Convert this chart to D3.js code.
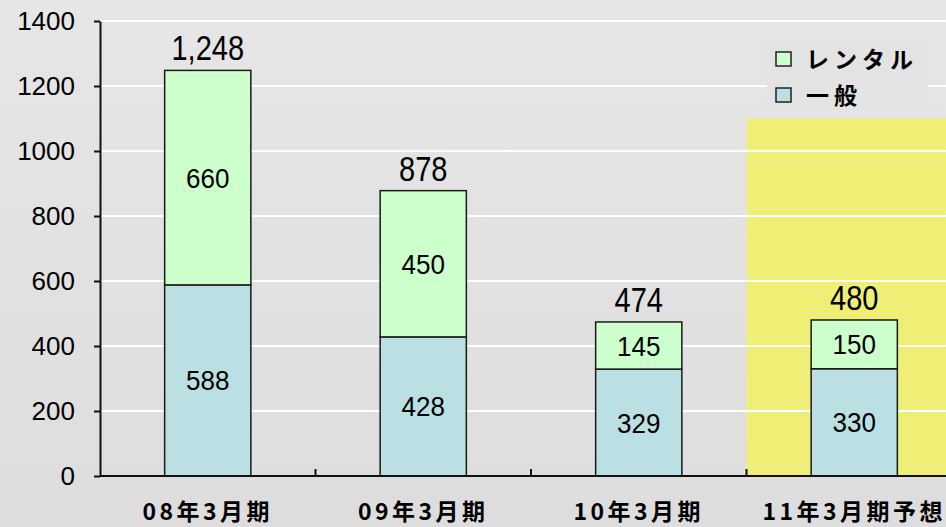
<!DOCTYPE html>
<html>
<head>
<meta charset="utf-8">
<script src="https://cdn.jsdelivr.net/npm/d3@7"></script>
<style>
  html, body { margin: 0; padding: 0; background: #e2e2e2; }
  svg { display: block; }
</style>
</head>
<body>
<svg id="chart" width="946" height="527"></svg>
<script>
// Fiscal periods and the two stacked series (units)
const categories = ["08年3月期", "09年3月期", "10年3月期", "11年3月期予想"];
const general = [588, 428, 329, 330];   // 一般
const rental  = [660, 450, 145, 150];   // レンタル
const totals  = [1248, 878, 474, 480];
const yTicks  = [0, 200, 400, 600, 800, 1000, 1200, 1400];
const forecastTop = 1100;               // height of the highlighted forecast panel
const seriesNames = ["レンタル", "一般"];

const colors = { rental: "#ccffcc", general: "#bae0e3" };
const numFont = "'Liberation Sans', Arial, sans-serif";
const jpFont = "'Noto Sans CJK JP', sans-serif";

const svg = d3.select("#chart");
const W = 946, H = 527;
const plotLeft = 100, plotBottom = 476, plotTop = 21;

// background with a faint vertical shade
const defs = svg.append("defs");
const bg = defs.append("linearGradient").attr("id", "bg").attr("x1", 0).attr("y1", 0).attr("x2", 0).attr("y2", 1);
bg.append("stop").attr("offset", "0%").attr("stop-color", "#e6e6e6");
bg.append("stop").attr("offset", "100%").attr("stop-color", "#dddddd");
svg.append("rect").attr("width", W).attr("height", H).attr("fill", "url(#bg)");

// fine yellow dotted mesh used for the forecast panel
const pat = defs.append("pattern").attr("id", "mesh").attr("patternUnits", "userSpaceOnUse")
  .attr("width", 4).attr("height", 4);
pat.append("rect").attr("width", 4).attr("height", 4).attr("fill", "#f4f43c");
[[1, 0], [0, 1], [2, 1], [1, 2], [3, 3], [3, 1]].forEach(([px, py]) =>
  pat.append("rect").attr("x", px).attr("y", py).attr("width", 1).attr("height", 1).attr("fill", "#e6e6d4"));

const x = d3.scaleBand().domain(categories).range([plotLeft, 962]).paddingInner(0.6).paddingOuter(0.3);
const y = d3.scaleLinear().domain([0, 1400]).range([plotBottom, plotTop]);

// forecast panel
const fStart = x(categories[3]) - x.step() * x.paddingInner() / 2;
svg.append("rect")
  .attr("x", fStart).attr("y", y(forecastTop))
  .attr("width", W - fStart).attr("height", y(0) - y(forecastTop))
  .attr("fill", "url(#mesh)");

// gridlines
svg.append("g").selectAll("line").data(yTicks.filter(d => d > 0)).join("line")
  .attr("x1", plotLeft).attr("x2", W)
  .attr("y1", d => y(d)).attr("y2", d => y(d))
  .attr("stroke", "#ffffff").attr("stroke-width", 2);

// stacked bars
const bars = svg.append("g");
categories.forEach((c, i) => {
  bars.append("rect")
    .attr("x", x(c)).attr("y", y(general[i]))
    .attr("width", x.bandwidth()).attr("height", y(0) - y(general[i]))
    .attr("fill", colors.general).attr("stroke", "#1a1a1a").attr("stroke-width", 1.5);
  bars.append("rect")
    .attr("x", x(c)).attr("y", y(general[i] + rental[i]))
    .attr("width", x.bandwidth()).attr("height", y(general[i]) - y(general[i] + rental[i]))
    .attr("fill", colors.rental).attr("stroke", "#1a1a1a").attr("stroke-width", 1.5);
});

// text helper: condensed numerals drawn with a horizontal squeeze
function numText(g, cx, cy, str, size, squeeze) {
  g.append("text")
    .attr("transform", `translate(${cx},${cy}) scale(${squeeze},1)`)
    .attr("font-size", size).text(str);
}

// segment values and totals
const labels = svg.append("g").attr("font-family", numFont).attr("fill", "#000").attr("text-anchor", "middle");
categories.forEach((c, i) => {
  const cx = x(c) + x.bandwidth() / 2;
  numText(labels, cx, y(general[i] / 2) + 10, general[i], 28, 0.93);
  numText(labels, cx, y(general[i] + rental[i] / 2) + 10, rental[i], 28, 0.93);
  numText(labels, cx, y(totals[i]) - 10, d3.format(",")(totals[i]), 35, 0.83);
});

// y axis
const yAxis = svg.append("g").attr("transform", `translate(${plotLeft},0)`)
  .call(d3.axisLeft(y).tickValues(yTicks).tickFormat(d3.format("d")).tickSize(6).tickPadding(19).tickSizeOuter(0));
yAxis.select(".domain").attr("stroke", "#111").attr("stroke-width", 2);
yAxis.selectAll(".tick line").attr("stroke", "#111").attr("stroke-width", 2);
yAxis.selectAll(".tick text").attr("font-family", numFont).attr("font-size", 26).attr("fill", "#000");

// x axis: baseline with inner ticks at category boundaries
const xAxis = svg.append("g");
xAxis.append("line").attr("x1", plotLeft).attr("x2", W).attr("y1", y(0)).attr("y2", y(0))
  .attr("stroke", "#111").attr("stroke-width", 2);
xAxis.selectAll("line.sep").data(categories.slice(1)).join("line").attr("class", "sep")
  .attr("x1", d => x(d) - x.step() * x.paddingInner() / 2)
  .attr("x2", d => x(d) - x.step() * x.paddingInner() / 2)
  .attr("y1", y(0)).attr("y2", y(0) - 7)
  .attr("stroke", "#111").attr("stroke-width", 2);
xAxis.selectAll("text").data(categories).join("text")
  .attr("x", d => x(d) + x.bandwidth() / 2).attr("y", 520)
  .attr("text-anchor", "middle")
  .attr("font-family", jpFont).attr("font-weight", "bold").attr("font-size", 23)
  .attr("letter-spacing", 3.5).attr("fill", "#000")
  .text(d => d);

// legend
const legend = svg.append("g");
legend.append("rect").attr("x", 767).attr("y", 40).attr("width", 161).attr("height", 70).attr("fill", "#e3e3e3");
seriesNames.forEach((name, i) => {
  const ly = 52 + i * 36;
  legend.append("rect").attr("x", 776).attr("y", ly).attr("width", 15).attr("height", 14)
    .attr("fill", i === 0 ? colors.rental : colors.general).attr("stroke", "#222").attr("stroke-width", 1.5);
  legend.append("text").attr("x", 806).attr("y", ly + 16)
    .attr("font-family", jpFont).attr("font-weight", "bold").attr("font-size", 23)
    .attr("letter-spacing", 5).attr("fill", "#000").text(name);
});
</script>
</body>
</html>
